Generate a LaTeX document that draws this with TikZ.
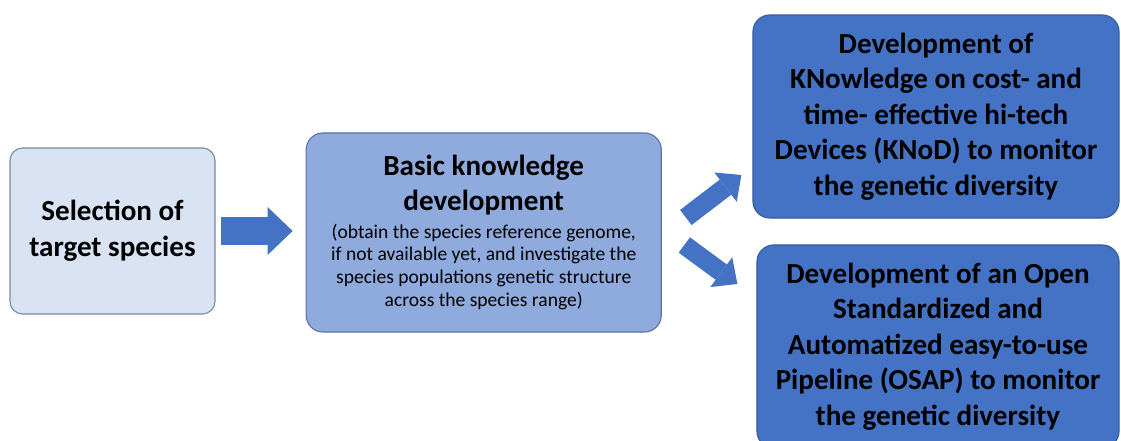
\documentclass[tikz,border=0pt]{standalone}
\usepackage{fontspec}
\setmainfont{Carlito}
\usetikzlibrary{arrows.meta, positioning}
\definecolor{selectfill}{RGB}{218, 227, 243}
\definecolor{selectdraw}{RGB}{120, 138, 165}
\definecolor{basicfill}{RGB}{143, 170, 220}
\definecolor{basicdraw}{RGB}{92, 116, 160}
\definecolor{devblue}{RGB}{68, 114, 196}
\definecolor{devdraw}{RGB}{52, 92, 160}

\begin{document}
\begin{tikzpicture}[x=0.025cm, y=-0.025cm,
    stagebox/.style={rounded corners=12pt, line width=0.8pt, align=center, text=black, inner sep=2pt},
    bigtext/.style={font=\fontsize{20.7}{25.3}\selectfont\bfseries},
    flatarrow/.style={-{Triangle[length=0.625cm, width=1.2cm, line width=0pt]}, line width=0.675cm, devblue},
    slantarrow/.style={-{Triangle[length=0.5cm, width=0.925cm, line width=0pt]}, line width=0.475cm, devblue}]
    \useasboundingbox (0,0) rectangle (1121,441);
    \clip (0,0) rectangle (1121,441);

    % Nodes
    \node[stagebox, bigtext, fill=selectfill, draw=selectdraw, rounded corners=9pt,
          minimum width=5.125cm, minimum height=4.15cm] (select) at (112.5,231) {Selection of\\target species};

    \node[stagebox, fill=basicfill, draw=basicdraw, minimum width=8.875cm, minimum height=4.975cm,
          font=\fontsize{13.9}{16.1}\selectfont, right=2.25cm of select, yshift=-0.0375cm] (basic)
          {{\fontsize{20.7}{24.5}\selectfont\bfseries Basic knowledge}\\[5.7pt]
           {\fontsize{20.7}{24.5}\selectfont\bfseries development}\\[3.5pt]
           (obtain the species reference genome,\\
           if not available yet, and investigate the\\
           species populations genetic structure\\
           across the species range)};

    \node[stagebox, bigtext, fill=devblue, draw=devdraw, minimum width=9.15cm, minimum height=5.075cm] (knod)
          at (936,116.5) {Development of\\KNowledge on cost- and\\time- effective hi-tech\\Devices (KNoD) to monitor\\the genetic diversity};

    \node[stagebox, bigtext, fill=devblue, draw=devdraw, minimum width=9.05cm, minimum height=5.075cm] (osap)
          at (938,346.5) {Development of an Open\\Standardized and\\Automatized easy-to-use\\Pipeline (OSAP) to monitor\\the genetic diversity};

    % Arrows
    \draw[flatarrow, shorten <=0.125cm, shorten >=0.325cm] (select.east) -- (select.east -| basic.west);
    \draw[slantarrow] ([shift={(24,-15)}]basic.east) -- ([shift={(-11,58.5)}]knod.west);
    \draw[slantarrow] ([shift={(22.5,12.5)}]basic.east) -- ([shift={(-19,-62.5)}]osap.west);
\end{tikzpicture}
\end{document}
